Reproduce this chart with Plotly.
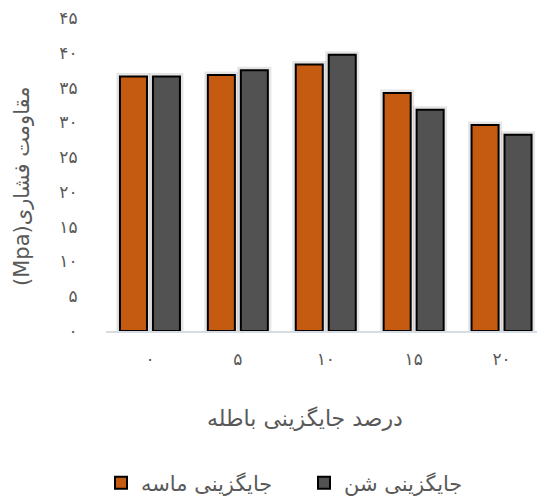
import plotly.graph_objects as go

# Replacement percentage (x categories, Persian digits)
categories = ["۰", "۵", "۱۰", "۱۵", "۲۰"]

# Compressive strength (MPa) for each replacement type
sand_values = [36.6, 36.8, 38.3, 34.2, 29.6]
gravel_values = [36.6, 37.5, 39.7, 31.8, 28.2]

series_names = ["جایگزینی ماسه", "جایگزینی شن"]
y_tick_values = [0, 5, 10, 15, 20, 25, 30, 35, 40, 45]
y_tick_labels = ["۰", "۵", "۱۰", "۱۵", "۲۰", "۲۵", "۳۰", "۳۵", "۴۰", "۴۵"]

x_title = "درصد جایگزینی باطله"
y_title = "(Mpa)مقاومت فشاری"

TEXT = "#595959"
FONT = "DejaVu Sans"

W, H = 537, 498
ML, MR, MT, MB = 106, 0, 18, 167
plot_w = W - ML - MR
plot_h = H - MT - MB


def px_x(p):
    return (p - ML) / plot_w


def px_y(p):
    return (H - MB - p) / plot_h


series = [
    (sand_values, series_names[0], "#C55A11", "sand"),
    (gravel_values, series_names[1], "#525252", "gravel"),
]

fig = go.Figure()
for values, name, color, group in series:
    # soft halo behind each bar
    fig.add_trace(go.Bar(
        x=categories, y=values, offsetgroup=group, showlegend=False,
        hoverinfo="skip",
        marker=dict(color="rgba(0,0,0,0)",
                    line=dict(color="rgba(0,0,0,0.10)", width=7)),
    ))
for values, name, color, group in series:
    fig.add_trace(go.Bar(
        x=categories, y=values, name=name, offsetgroup=group,
        marker=dict(color=color, line=dict(color="#000000", width=2)),
    ))

fig.update_layout(
    width=W, height=H,
    margin=dict(l=ML, r=MR, t=MT, b=MB, autoexpand=False),
    paper_bgcolor="white", plot_bgcolor="white",
    barmode="group", bargap=0.25, bargroupgap=0.18,
    font=dict(family=FONT, color=TEXT, size=16),
    showlegend=True,
    legend=dict(
        orientation="h", x=px_x(101), y=px_y(483),
        xanchor="left", yanchor="middle",
        font=dict(family=FONT, size=21, color=TEXT),
        traceorder="normal", itemwidth=30,
        entrywidth=158, entrywidthmode="pixels",
        bgcolor="rgba(0,0,0,0)",
    ),
)

fig.update_xaxes(
    type="category", range=[-0.5, -0.5 + plot_w / 87.9],
    showline=True, linecolor="#D6DCE4", linewidth=1.5,
    showgrid=False, zeroline=False,
    ticks="outside", ticklen=12, tickcolor="rgba(0,0,0,0)",
    tickfont=dict(family=FONT, size=17, color=TEXT),
    fixedrange=True,
)
fig.update_yaxes(
    range=[0, 45], tickvals=y_tick_values, ticktext=y_tick_labels,
    showline=False, showgrid=False, zeroline=False,
    ticks="outside", ticklen=24, tickcolor="rgba(0,0,0,0)",
    tickfont=dict(family=FONT, size=17, color=TEXT),
    fixedrange=True,
)

fig.add_annotation(
    text=y_title, xref="paper", yref="paper",
    x=px_x(22), y=px_y(187), xanchor="center", yanchor="middle",
    textangle=-90, showarrow=False,
    font=dict(family=FONT, size=21, color=TEXT),
)
fig.add_annotation(
    text=x_title, xref="paper", yref="paper",
    x=px_x(305), y=px_y(418), xanchor="center", yanchor="middle",
    showarrow=False,
    font=dict(family=FONT, size=22, color=TEXT),
)

fig.write_html("out.html", config=dict(displayModeBar=False))
